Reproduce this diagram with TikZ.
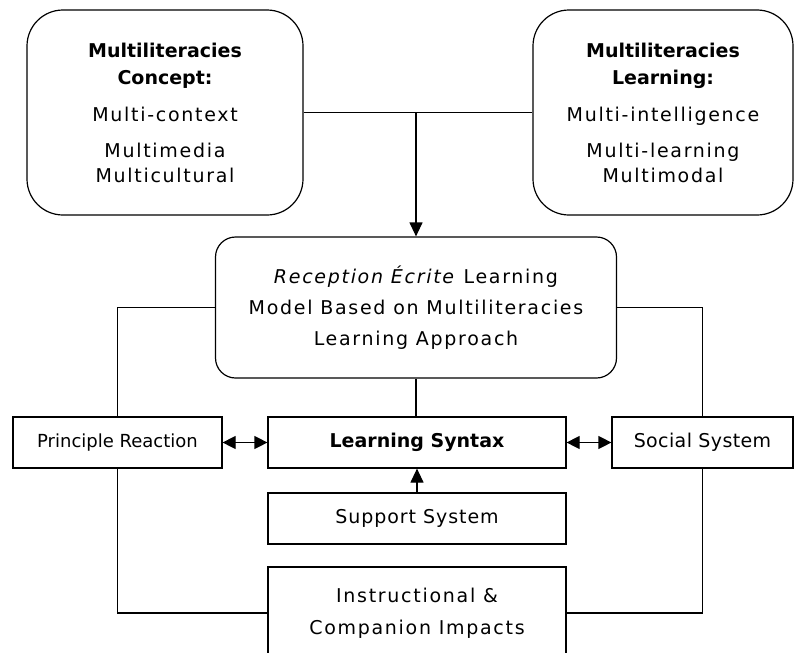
\documentclass[tikz,border=0pt]{standalone}
\usepackage{fontspec}
\setmainfont[LetterSpace=9]{DejaVu Sans}
\newfontfamily\headfont{DejaVu Sans}
\usetikzlibrary{arrows.meta}

\tikzset{
  frame/.style={draw=black, line width=1.2pt, align=center, inner sep=0pt,
    font=\fontsize{19}{25}\selectfont},
  roundbox/.style={frame, rounded corners=#1},
  link/.style={draw=black, line width=1.2pt},
  tip/.style={-{Triangle[length=14pt,width=13pt]}},
  twotips/.style={{Triangle[length=13pt,width=13pt]}-{Triangle[length=13pt,width=13pt]}},
  head/.style={font=\fontsize{19}{25}\selectfont\headfont\bfseries}
}

\begin{document}
\begin{tikzpicture}[x=1pt, y=-1pt]
  \useasboundingbox (0,0) rectangle (795,653);
  \fill[white] (0,0) rectangle (795,653);
  \clip (0,0) rectangle (795,653);

  % upper boxes
  \node[roundbox=36pt, minimum width=276pt, minimum height=205pt] (concept) at (165,112.5)
    {{\headfont\bfseries Multiliteracies}\\[2pt]{\headfont\bfseries Concept:}\\[12pt]Multi-context\\[11pt]Multimedia\\Multicultural};
  \node[roundbox=36pt, minimum width=260pt, minimum height=205pt] (learn) at (663,112.5)
    {{\headfont\bfseries Multiliteracies}\\[2pt]{\headfont\bfseries Learning:}\\[12pt]Multi-intelligence\\[11pt]Multi-learning\\Multimodal};

  % model
  \node[roundbox=20pt, minimum width=401pt, minimum height=141pt,
        font=\fontsize{19}{31}\selectfont] (model) at (416,307.5)
    {\textit{Reception Écrite} Learning\\Model Based on Multiliteracies\\Learning Approach};

  % syntax row
  \node[frame, minimum width=209pt, minimum height=51pt,
        font=\fontsize{18}{22}\selectfont\addfontfeature{LetterSpace=0}] (reaction) at (117.5,442.5)
    {Principle Reaction};
  \node[frame, minimum width=298pt, minimum height=51pt, head] (syntax) at (417,442.5)
    {\raisebox{-3pt}{Learning Syntax}};
  \node[frame, minimum width=181pt, minimum height=51pt,
        font=\fontsize{19}{22}\selectfont\addfontfeature{LetterSpace=2}] (social) at (702.5,442.5)
    {Social System};

  % lower boxes
  \node[frame, minimum width=298pt, minimum height=51pt,
        font=\fontsize{19}{22}\selectfont\addfontfeature{LetterSpace=5}] (support) at (417,518.5)
    {Support System};
  \node[frame, minimum width=298pt, minimum height=92pt,
        font=\fontsize{19}{32}\selectfont] (impact) at (417,613)
    {Instructional \&\\Companion Impacts};

  % connectors
  \draw[link] (concept.east) -- (learn.west);
  \draw[link, tip] (model.north |- concept.east) -- (model.north);
  \draw[link] (model.west) -| (reaction.north);
  \draw[link] (model.east) -| (social.north);
  \draw[link] (model.south) -- (model.south |- syntax.north);
  \draw[link, twotips] (reaction.east) -- (syntax.west);
  \draw[link, twotips] (syntax.east) -- (social.west);
  \draw[link, tip] (support.north) -- (syntax.south);
  \draw[link] (reaction.south) |- (impact.west);
  \draw[link] (social.south) |- (impact.east);
\end{tikzpicture}
\end{document}
